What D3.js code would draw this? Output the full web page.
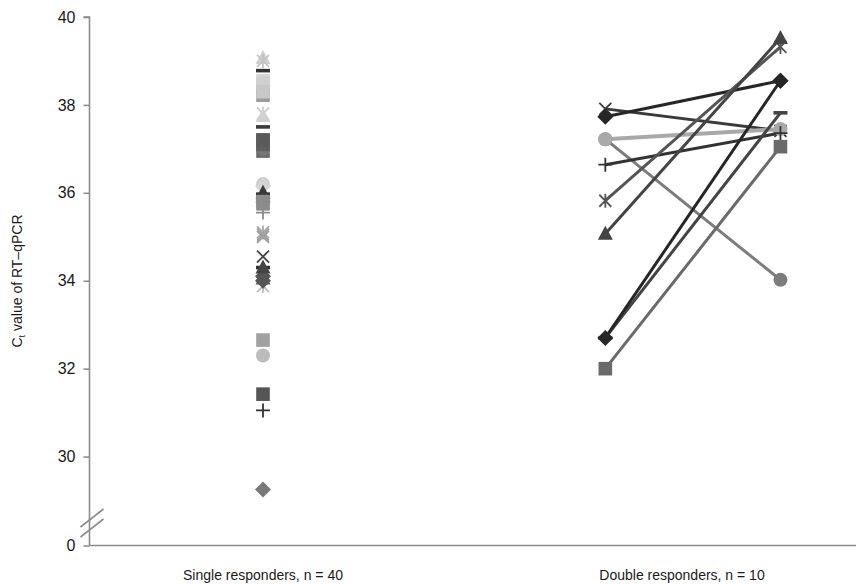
<!DOCTYPE html>
<html>
<head>
<meta charset="utf-8">
<script src="https://cdn.jsdelivr.net/npm/d3@7"></script>
<style>
  html, body { margin: 0; padding: 0; background: #fff; }
  svg { display: block; font-family: "Liberation Sans", Arial, sans-serif; }
</style>
</head>
<body>
<svg id="chart" width="856" height="584"></svg>
<script>
// ---------------- DATA ----------------
const categories = ["Single responders, n = 40", "Double responders, n = 10"];
const yTickValues = [0, 30, 32, 34, 36, 38, 40];

// Single responders: Ct values (40 samples)
const singleValues = [
  39.07, 39.0, 38.78, 38.55, 38.4, 38.22, 37.8, 37.75, 37.5, 37.2,
  36.95, 37.05, 37.0, 36.2, 36.15, 35.92, 35.97, 35.75, 35.55, 35.1,
  35.0, 34.55, 34.3, 34.1, 34.05, 33.88, 32.65, 32.3, 31.42, 31.05,
  29.25, 38.5, 37.1, 36.0, 35.8, 34.0, 37.2, 38.3, 35.05, 34.3
];
const singleMarkers = [
  "triangle", "asterisk", "dash", "square", "square", "square", "asterisk", "triangle", "dash", "square",
  "square", "x", "circle", "circle", "diamond", "triangle", "dash", "square", "plus", "asterisk",
  "x", "x", "dash", "diamond", "triangle", "asterisk", "square", "circle", "square", "plus",
  "diamond", "square", "square", "triangle", "square", "diamond", "square", "square", "x", "triangle"
];

// Double responders: first and second Ct value per patient
const doubleFirst  = [37.91, 37.73, 37.22, 37.22, 36.64, 35.82, 35.07, 32.70, 32.70, 32.00];
const doubleSecond = [37.41, 38.55, 34.02, 37.45, 37.36, 39.32, 39.52, 37.82, 38.55, 37.05];
const doubleMarkers = ["x", "diamond", "circle", "circle", "plus", "asterisk", "triangle", "dash", "diamond", "square"];

// ---------------- STYLE ----------------
const singleShades = [
  "#cfcfcf", "#c4c4c4", "#333333", "#d6d6d6", "#cccccc", "#9a9a9a", "#c8c8c8", "#d2d2d2", "#3c3c3c", "#5a5a5a",
  "#6a6a6a", "#8a8a8a", "#777777", "#cdcdcd", "#d4d4d4", "#333333", "#333333", "#8c8c8c", "#8c8c8c", "#a8a8a8",
  "#9a9a9a", "#444444", "#333333", "#555555", "#5a5a5a", "#bdbdbd", "#a0a0a0", "#bcbcbc", "#555555", "#333333",
  "#787878", "#d0d0d0", "#606060", "#3a3a3a", "#8c8c8c", "#555555", "#5a5a5a", "#c8c8c8", "#a0a0a0", "#444444"
];
const doubleShades = ["#3a3a3a", "#262626", "#7c7c7c", "#a9a9a9", "#333333", "#555555", "#444444", "#444444", "#262626", "#6a6a6a"];
const doubleWidths = [3, 3, 3, 4, 3, 3, 3, 3, 3, 3];

// ---------------- SCALES ----------------
const svg = d3.select("#chart");
const axisColor = "#8c8c8c";
const axisX0 = 89.5;
const baseY = 545.5;

// category positions: single at 1, double label at 2, double first/second around it
const x = d3.scaleLinear().domain([1, 2]).range([263, 682]);
const catPos = [1, 2];
const doublePre = 1.817, doublePost = 2.235;

// broken axis: 0 sits directly below the 28 level
const y = d3.scaleLinear().domain([0, 28, 40]).range([baseY, baseY - 1, 17]);

// ---------------- AXES ----------------
const yAxis = d3.axisLeft(y).tickValues(yTickValues).tickSize(6).tickPadding(8).tickFormat(d3.format("d"));
const gy = svg.append("g").attr("transform", `translate(${axisX0},0)`).call(yAxis);
gy.select(".domain").attr("stroke", axisColor).attr("stroke-width", 1.6)
  .attr("d", `M-6,${y(40)}H0V${baseY}`);
gy.selectAll(".tick line").attr("stroke", axisColor).attr("stroke-width", 1.6);
gy.selectAll(".tick text").attr("fill", "#1a1a1a").attr("font-size", 16)
  .attr("font-family", "'Liberation Sans', Arial, sans-serif");

// x axis line
svg.append("line").attr("x1", axisX0).attr("x2", 856).attr("y1", baseY).attr("y2", baseY)
  .attr("stroke", axisColor).attr("stroke-width", 1.6);

// axis break marks
const brk = svg.append("g").attr("stroke", axisColor).attr("stroke-width", 1.6);
brk.append("line").attr("x1", axisX0 - 9).attr("y1", 527).attr("x2", axisX0 + 14).attr("y2", 509);
brk.append("line").attr("x1", axisX0 - 9).attr("y1", 537).attr("x2", axisX0 + 14).attr("y2", 519);

// category labels
svg.append("g").selectAll("text").data(categories).join("text")
  .attr("x", (d, i) => x(catPos[i]))
  .attr("y", 580)
  .attr("text-anchor", "middle")
  .attr("font-size", 14)
  .attr("fill", "#1a1a1a")
  .text(d => d);

// y axis title
const yt = svg.append("text")
  .attr("transform", "translate(22,281) rotate(-90)")
  .attr("text-anchor", "middle")
  .attr("font-size", 14)
  .attr("fill", "#1a1a1a");
yt.append("tspan").text("C");
yt.append("tspan").attr("font-size", 9).attr("dy", 3).text("t");
yt.append("tspan").attr("dy", -3).text(" value of RT\u2013qPCR");

// ---------------- MARKERS ----------------
function drawMarker(g, type, color) {
  const s = 6.8;
  if (type === "square") {
    g.append("rect").attr("x", -s).attr("y", -s).attr("width", 2 * s).attr("height", 2 * s).attr("fill", color);
  } else if (type === "diamond") {
    g.append("path").attr("d", "M0,-8L8,0L0,8L-8,0Z").attr("fill", color);
  } else if (type === "triangle") {
    g.append("path").attr("d", "M0,-8L7.5,6L-7.5,6Z").attr("fill", color);
  } else if (type === "circle") {
    g.append("circle").attr("r", 7).attr("fill", color);
  } else if (type === "x") {
    g.append("path").attr("d", "M-6,-6L6,6M6,-6L-6,6").attr("stroke", color).attr("stroke-width", 1.8).attr("fill", "none");
  } else if (type === "asterisk") {
    g.append("path").attr("d", "M-6,-6L6,6M6,-6L-6,6M0,-7V7").attr("stroke", color).attr("stroke-width", 1.8).attr("fill", "none");
  } else if (type === "plus") {
    g.append("path").attr("d", "M-7,0H7M0,-7V7").attr("stroke", color).attr("stroke-width", 1.8).attr("fill", "none");
  } else if (type === "dash") {
    g.append("rect").attr("x", -7).attr("y", -1.8).attr("width", 14).attr("height", 3.6).attr("fill", color);
  }
}

// single responders
const singleG = svg.append("g");
singleValues.forEach((v, i) => {
  const g = singleG.append("g").attr("transform", `translate(${x(catPos[0])},${y(v)})`);
  drawMarker(g, singleMarkers[i], singleShades[i]);
});

// double responders: lines first, then markers
const lineGen = d3.line().x(d => x(d[0])).y(d => y(d[1]));
const doubleG = svg.append("g");
doubleFirst.forEach((v, i) => {
  doubleG.append("path")
    .attr("d", lineGen([[doublePre, v], [doublePost, doubleSecond[i]]]))
    .attr("stroke", doubleShades[i])
    .attr("stroke-width", doubleWidths[i])
    .attr("fill", "none");
});
doubleFirst.forEach((v, i) => {
  const g1 = doubleG.append("g").attr("transform", `translate(${x(doublePre)},${y(v)})`);
  drawMarker(g1, doubleMarkers[i], doubleShades[i]);
  const g2 = doubleG.append("g").attr("transform", `translate(${x(doublePost)},${y(doubleSecond[i])})`);
  drawMarker(g2, doubleMarkers[i], doubleShades[i]);
});
</script>
</body>
</html>
